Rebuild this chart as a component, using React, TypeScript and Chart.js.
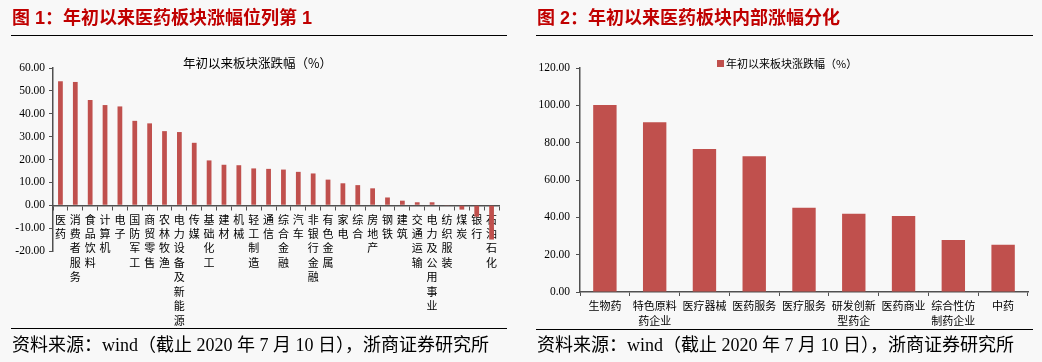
import React, { useEffect, useRef } from "react";
import { Chart, registerables } from "chart.js";

Chart.register(...registerables);

// ---------- data ----------
const industryNames = [
  "医药", "消费者服务", "食品饮料", "计算机", "电子", "国防军工", "商贸零售", "农林牧渔",
  "电力设备及新能源", "传媒", "基础化工", "建材", "机械", "轻工制造", "通信", "综合金融",
  "汽车", "非银行金融", "有色金属", "家电", "综合", "房地产", "钢铁", "建筑", "交通运输",
  "电力及公用事业", "纺织服装", "煤炭", "银行", "石油石化",
];
const industryReturns = [
  54.2, 53.9, 46.0, 43.8, 43.2, 36.9, 35.8, 32.4,
  32.0, 27.3, 19.6, 17.7, 17.5, 16.1, 15.9, 15.6,
  14.6, 13.9, 11.2, 9.6, 8.8, 7.4, 3.4, 2.0, 1.3,
  1.3, -0.3, -1.9, -5.0, -15.0,
];
const industryAxisMin = -20;
const industryAxisMax = 60;
const industryAxisStep = 10;

const pharmaGroups = [
  ["生物药"], ["特色原料", "药企业"], ["医疗器械"], ["医药服务"], ["医疗服务"],
  ["研发创新", "型药企"], ["医药商业"], ["综合性仿", "制药企业"], ["中药"],
];
const pharmaReturns = [100.2, 90.9, 76.6, 72.7, 45.2, 41.9, 40.7, 27.9, 25.3];
const pharmaAxisMin = 0;
const pharmaAxisMax = 120;
const pharmaAxisStep = 20;

const seriesName = "年初以来板块涨跌幅（%）";
const title1 = "图 1：年初以来医药板块涨幅位列第 1";
const title2 = "图 2：年初以来医药板块内部涨幅分化";
const sourceNote = "资料来源：wind（截止 2020 年 7 月 10 日），浙商证券研究所";

// ---------- styles ----------
const BAR = "#c0504d";
const AXIS = "#505050";
const CJK = "'Noto Sans CJK SC', sans-serif";
const NUM = "'Liberation Serif', 'Noto Sans CJK SC', serif";

function makeChart(
  canvas: HTMLCanvasElement,
  labels: any[],
  values: number[],
  opts: {
    min: number; max: number; step: number; barPct: number;
    axisWidth: number; axisHeight: number;
    padding: { left: number; right: number; top: number; bottom: number };
    zeroAxis: boolean; yPad: number; xPad: number; lineHeight: number;
  }
) {
  return new Chart(canvas, {
    type: "bar",
    data: {
      labels,
      datasets: [
        {
          label: seriesName,
          data: values,
          backgroundColor: BAR,
          borderWidth: 0,
          barPercentage: opts.barPct,
          categoryPercentage: 1,
        },
      ],
    },
    options: {
      responsive: false,
      animation: false,
      layout: { padding: opts.padding },
      plugins: { legend: { display: false }, tooltip: { enabled: false }, title: { display: false } },
      scales: {
        x: {
          type: "category",
          position: opts.zeroAxis ? ({ y: 0 } as any) : "bottom",
          afterFit: (s: any) => { s.height = opts.axisHeight; },
          grid: {
            display: true, drawOnChartArea: false, drawTicks: true, tickLength: 4,
            offset: true, color: AXIS, lineWidth: 1,
          },
          border: { display: true, color: AXIS, width: 1.5 },
          ticks: {
            autoSkip: false, maxRotation: 0, minRotation: 0, padding: opts.xPad, color: "#000",
            font: { family: CJK, size: 11, lineHeight: opts.lineHeight },
          },
        },
        y: {
          min: opts.min,
          max: opts.max,
          afterFit: (s: any) => { s.width = opts.axisWidth; },
          grid: {
            display: true, drawOnChartArea: false, drawTicks: true, tickLength: 4,
            color: AXIS, lineWidth: 1,
          },
          border: { display: true, color: AXIS, width: 1.5 },
          ticks: {
            stepSize: opts.step, padding: opts.yPad, color: "#000",
            font: { family: NUM, size: 11.5 },
            callback: (v: any) => Number(v).toFixed(2),
          },
        },
      },
    },
  });
}

function IndustryChart() {
  const ref = useRef<HTMLCanvasElement>(null);
  useEffect(() => {
    const c = makeChart(ref.current!, industryNames.map((n) => Array.from(n)), industryReturns, {
      min: industryAxisMin, max: industryAxisMax, step: industryAxisStep, barPct: 0.32,
      axisWidth: 53, axisHeight: 0, padding: { left: 0, right: 21, top: 68, bottom: 111 },
      zeroAxis: true, yPad: 4, xPad: 3, lineHeight: 1.31,
    });
    return () => c.destroy();
  }, []);
  return <canvas ref={ref} width={520} height={362} style={{ position: "absolute", left: 0, top: 0 }} />;
}

function PharmaChart() {
  const ref = useRef<HTMLCanvasElement>(null);
  useEffect(() => {
    const c = makeChart(ref.current!, pharmaGroups, pharmaReturns, {
      min: pharmaAxisMin, max: pharmaAxisMax, step: pharmaAxisStep, barPct: 0.47,
      axisWidth: 60, axisHeight: 70, padding: { left: 0, right: 14, top: 68, bottom: 0 },
      zeroAxis: false, yPad: 6, xPad: 3, lineHeight: 1.3,
    });
    return () => c.destroy();
  }, []);
  return <canvas ref={ref} width={522} height={362} style={{ position: "absolute", left: 520, top: 0 }} />;
}

const titleStyle: React.CSSProperties = {
  position: "absolute", top: 8, fontFamily: "'Liberation Sans', 'Noto Sans CJK SC', sans-serif",
  fontWeight: 700, fontSize: 18, lineHeight: "20px", color: "#c00000", whiteSpace: "nowrap",
};
const footStyle: React.CSSProperties = {
  position: "absolute", top: 335, fontFamily: NUM, fontSize: 18, lineHeight: "20px",
  color: "#000", whiteSpace: "nowrap",
};
const lineStyle = (left: number, top: number, width: number): React.CSSProperties => ({
  position: "absolute", left, top, width, height: 1, background: "#000",
});

export default function App() {
  return (
    <div style={{ position: "fixed", left: 0, top: 0, width: 1042, height: 362, background: "#f8f8f8", overflow: "hidden" }}>
      <IndustryChart />
      <PharmaChart />
      <div style={{ ...titleStyle, left: 12 }}>{title1}</div>
      <div style={{ ...titleStyle, left: 537 }}>{title2}</div>
      <div style={lineStyle(11, 35, 496)} />
      <div style={lineStyle(536, 35, 497)} />
      <div style={lineStyle(11, 328, 496)} />
      <div style={lineStyle(536, 329, 497)} />
      <div
        style={{
          position: "absolute", left: 183, top: 55, width: 147, textAlign: "center",
          fontFamily: CJK, fontSize: 12.5, lineHeight: "16px", color: "#000", whiteSpace: "nowrap",
        }}
      >
        {seriesName}
      </div>
      <div
        style={{
          position: "absolute", left: 717, top: 55, display: "flex", alignItems: "center",
          fontFamily: CJK, fontSize: 11, lineHeight: "16px", color: "#000", whiteSpace: "nowrap",
        }}
      >
        <span style={{ display: "inline-block", width: 7, height: 7, background: BAR, marginRight: 2 }} />
        {seriesName}
      </div>
      <div style={{ ...footStyle, left: 12 }}>{sourceNote}</div>
      <div style={{ ...footStyle, left: 537 }}>{sourceNote}</div>
    </div>
  );
}
